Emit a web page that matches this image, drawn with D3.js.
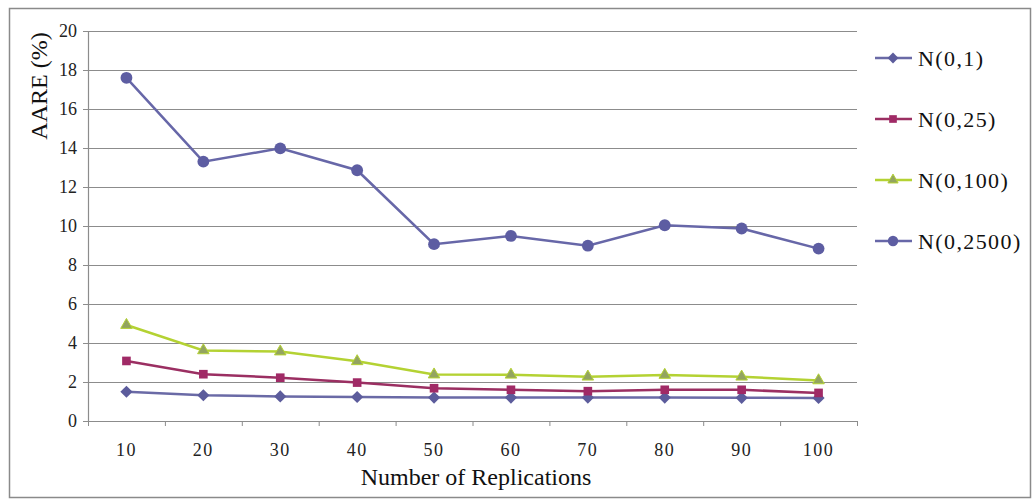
<!DOCTYPE html>
<html>
<head>
<meta charset="utf-8">
<script src="https://cdn.jsdelivr.net/npm/d3@7"></script>
<style>
  body { margin: 0; background: #fff; }
  svg text { font-family: "Liberation Serif", "DejaVu Serif", serif; }
</style>
</head>
<body>
<div id="chart"></div>
<script>
// dati
var replications = ["10", "20", "30", "40", "50", "60", "70", "80", "90", "100"];
var n1    = [1.5, 1.32, 1.26, 1.23, 1.2, 1.2, 1.2, 1.2, 1.19, 1.18];
var n25   = [3.08, 2.4, 2.22, 1.97, 1.68, 1.6, 1.53, 1.6, 1.6, 1.44];
var n100  = [4.92, 3.62, 3.56, 3.06, 2.38, 2.37, 2.27, 2.36, 2.27, 2.08];
var n2500 = [17.6, 13.3, 13.98, 12.86, 9.07, 9.49, 8.99, 10.04, 9.87, 8.84];
var yTicks = [0, 2, 4, 6, 8, 10, 12, 14, 16, 18, 20];
var seriesNames = ["N(0,1)", "N(0,25)", "N(0,100)", "N(0,2500)"];

var series = [
    { name: seriesNames[0], values: n1,    line: "#6a6aa6", fill: "#5c5c9c", sym: d3.symbolDiamond2 },
    { name: seriesNames[1], values: n25,   line: "#9b2f62", fill: "#a02a66", sym: d3.symbolSquare2 },
    { name: seriesNames[2], values: n100,  line: "#b4d233", fill: "#93a460", sym: d3.symbolTriangle2 },
    { name: seriesNames[3], values: n2500, line: "#6767a8", fill: "#5d5da2", sym: d3.symbolCircle }
];

var width = 1035, height = 500;
var plotLeft = 88, plotRight = 857, plotTop = 31, plotBottom = 421;

var svg = d3.select("#chart")
            .append("svg")
            .attr("width", width)
            .attr("height", height);

// cornice esterna
svg.append("rect")
   .attr("x", 9.5).attr("y", 8.5)
   .attr("width", 1021).attr("height", 489)
   .attr("fill", "none")
   .attr("stroke", "#8a8a8a")
   .attr("stroke-width", 1.5);

var x = d3.scaleBand().domain(replications).range([plotLeft, plotRight]);
var y = d3.scaleLinear().domain([0, 20]).range([plotBottom, plotTop]);

// griglia
svg.append("g")
   .selectAll("line")
   .data(yTicks.filter(d => d > 0))
   .enter()
   .append("line")
   .attr("x1", plotLeft).attr("x2", plotRight)
   .attr("y1", d => y(d) + 0.5).attr("y2", d => y(d) + 0.5)
   .attr("stroke", "#8c8c8c")
   .attr("stroke-width", 1.2);

// asse y
var yAxis = svg.append("g")
               .attr("transform", `translate(${plotLeft},0)`)
               .call(d3.axisLeft(y).tickValues(yTicks).tickSize(5).tickPadding(6));
yAxis.select(".domain").attr("stroke", "#8c8c8c").attr("stroke-width", 1.2);
yAxis.selectAll(".tick line").attr("stroke", "#8c8c8c");
yAxis.selectAll("text")
     .style("font-family", "'Liberation Serif', serif")
     .style("font-size", "18px")
     .attr("fill", "#222");

// asse x: le tacche stanno sui bordi delle bande
var xAxis = svg.append("g")
               .attr("transform", `translate(0,${plotBottom})`)
               .call(d3.axisBottom(x).tickSize(0).tickPadding(22));
xAxis.select(".domain").attr("stroke", "#8c8c8c").attr("stroke-width", 1.2);
xAxis.selectAll("text")
     .style("font-family", "'Liberation Serif', serif")
     .style("font-size", "18px")
     .style("letter-spacing", "1.5px")
     .attr("fill", "#222");

svg.append("g")
   .selectAll("line")
   .data(replications.map(d => x(d)).concat([plotRight]))
   .enter()
   .append("line")
   .attr("x1", d => d + 0.5).attr("x2", d => d + 0.5)
   .attr("y1", plotBottom).attr("y2", plotBottom + 5)
   .attr("stroke", "#8c8c8c");

// titoli degli assi
svg.append("text")
   .attr("x", 476).attr("y", 485)
   .attr("text-anchor", "middle")
   .style("font-size", "24px")
   .attr("fill", "#111")
   .text("Number of Replications");

svg.append("text")
   .attr("transform", "translate(47,86) rotate(-90)")
   .attr("text-anchor", "middle")
   .style("font-size", "24px")
   .attr("fill", "#111")
   .text("AARE (%)");

// linee e marcatori
var line = d3.line()
             .x((d, i) => x(replications[i]) + x.bandwidth() / 2)
             .y(d => y(d));

var gSeries = svg.append("g");
series.forEach(s => {
    gSeries.append("path")
           .attr("d", line(s.values))
           .attr("fill", "none")
           .attr("stroke", s.line)
           .attr("stroke-width", 2.5);
});
series.forEach(s => {
    gSeries.append("g")
           .selectAll("path")
           .data(s.values)
           .enter()
           .append("path")
           .attr("transform", (d, i) => `translate(${x(replications[i]) + x.bandwidth() / 2},${y(d)})`)
           .attr("d", d3.symbol().type(s.sym).size(s.sym == d3.symbolCircle ? 110 : 95))
           .attr("fill", s.fill)
           .attr("stroke", s.sym == d3.symbolTriangle2 ? s.line : "none")
           .attr("stroke-width", 1);
});

// legenda
var legend = svg.append("g")
                .selectAll("g")
                .data(series)
                .enter()
                .append("g")
                .attr("transform", (d, i) => `translate(875,${58 + i * 61})`);

legend.append("line")
      .attr("x1", 0).attr("x2", 37)
      .attr("stroke", d => d.line)
      .attr("stroke-width", 2.5);

legend.append("path")
      .attr("transform", "translate(18,0)")
      .attr("d", d => d3.symbol().type(d.sym).size(d.sym == d3.symbolCircle ? 85 : 75)())
      .attr("fill", d => d.fill)
      .attr("stroke", d => d.sym == d3.symbolTriangle2 ? d.line : "none");

legend.append("text")
      .attr("x", 43)
      .attr("dy", "0.35em")
      .style("font-size", "22px")
      .style("letter-spacing", "1.4px")
      .attr("fill", "#111")
      .text(d => d.name);
</script>
</body>
</html>
